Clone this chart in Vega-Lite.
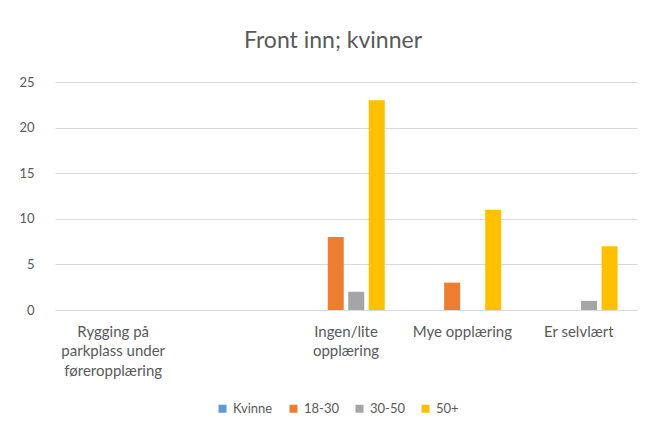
{
  "$schema": "https://vega.github.io/schema/vega-lite/v6.json",
  "width": 582,
  "height": 228,
  "autosize": {"type": "none"},
  "padding": {"left": 55, "top": 82, "right": 17, "bottom": 119},
  "background": "white",
  "title": {
    "text": "Front inn; kvinner",
    "font": "Lato",
    "fontSize": 23,
    "fontWeight": "normal",
    "color": "#595959",
    "offset": 23,
    "dx": -13
  },
  "data": {
    "values": [
      {"kategori": "Ingen/lite opplæring", "gruppe": "18-30", "antall": 8},
      {"kategori": "Ingen/lite opplæring", "gruppe": "30-50", "antall": 2},
      {"kategori": "Ingen/lite opplæring", "gruppe": "50+", "antall": 23},
      {"kategori": "Mye opplæring", "gruppe": "18-30", "antall": 3},
      {"kategori": "Mye opplæring", "gruppe": "50+", "antall": 11},
      {"kategori": "Er selvlært", "gruppe": "30-50", "antall": 1},
      {"kategori": "Er selvlært", "gruppe": "50+", "antall": 7}
    ]
  },
  "mark": {"type": "bar"},
  "encoding": {
    "x": {
      "field": "kategori",
      "type": "nominal",
      "sort": null,
      "scale": {
        "domain": ["Rygging på parkplass under føreropplæring", " ", "Ingen/lite opplæring", "Mye opplæring", "Er selvlært"],
        "paddingInner": 0.334,
        "paddingOuter": 0.167
      },
      "axis": {
        "title": null,
        "labelAngle": 0,
        "ticks": false,
        "domain": true,
        "domainColor": "#d9d9d9",
        "labelPadding": 14,
        "labelFont": "Lato",
        "labelFontSize": 15,
        "labelColor": "#595959",
        "labelLineHeight": 19.5,
        "labelBaseline": "top",
        "labelExpr": "datum.value == 'Rygging på parkplass under føreropplæring' ? ['Rygging på', 'parkplass under', 'føreropplæring'] : datum.value == 'Ingen/lite opplæring' ? ['Ingen/lite', 'opplæring'] : datum.value"
      }
    },
    "xOffset": {
      "field": "gruppe",
      "type": "nominal",
      "scale": {"domain": ["Kvinne", "18-30", "30-50", "50+"], "paddingInner": 0.22, "paddingOuter": 0}
    },
    "y": {
      "field": "antall",
      "type": "quantitative",
      "scale": {"domain": [0, 25]},
      "axis": {
        "title": null,
        "values": [0, 5, 10, 15, 20, 25],
        "ticks": false,
        "domain": false,
        "grid": true,
        "gridColor": "#d9d9d9",
        "labelPadding": 21,
        "labelFont": "Lato",
        "labelFontSize": 13,
        "labelColor": "#595959"
      }
    },
    "color": {
      "field": "gruppe",
      "type": "nominal",
      "scale": {
        "domain": ["Kvinne", "18-30", "30-50", "50+"],
        "range": ["#5B9BD5", "#ED7D31", "#A5A5A5", "#FFC000"]
      },
      "legend": {
        "title": null,
        "orient": "none",
        "direction": "horizontal",
        "legendX": 161,
        "legendY": 320,
        "symbolType": "square",
        "symbolSize": 64,
        "symbolStrokeWidth": 0,
        "labelFont": "Lato",
        "labelFontSize": 13,
        "labelColor": "#595959",
        "labelOffset": 4,
        "columnPadding": 14
      }
    }
  },
  "config": {"view": {"stroke": null}}
}
